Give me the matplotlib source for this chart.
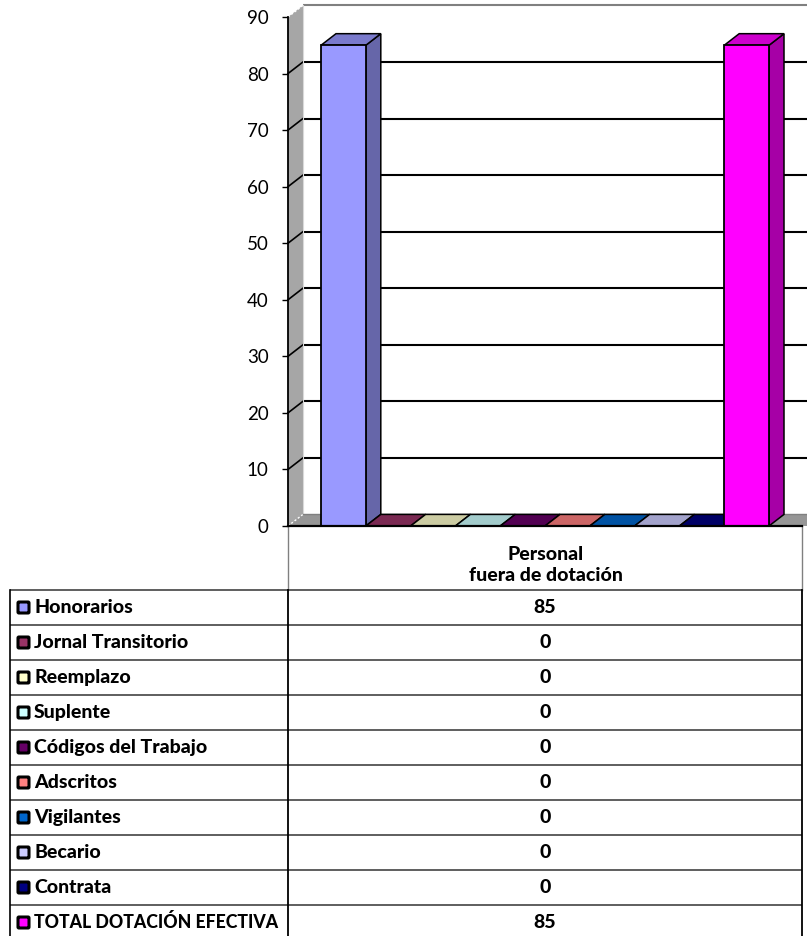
import matplotlib
matplotlib.use("Agg")
import matplotlib.pyplot as plt
from matplotlib.patches import Polygon, Rectangle, FancyBboxPatch

plt.rcParams['font.family'] = ['Lato', 'DejaVu Sans']

names = ["Honorarios", "Jornal Transitorio", "Reemplazo", "Suplente", "Códigos del Trabajo",
         "Adscritos", "Vigilantes", "Becario", "Contrata", "TOTAL DOTACIÓN EFECTIVA"]
values = [85, 0, 0, 0, 0, 0, 0, 0, 0, 85]
front_colors = ["#9999FF", "#993366", "#FFFFCC", "#CCFFFF", "#660066",
                "#FF8080", "#0066CC", "#CCCCFF", "#000080", "#FF00FF"]
top_colors = ["#7A7ACC", "#7A2952", "#CCCCA3", "#A3CCCC", "#520052",
              "#CC6666", "#0052A3", "#A3A3CC", "#000066", "#CC00CC"]
side_colors = ["#6666A9", "#662244", "#A9A988", "#88A9A9", "#440044",
               "#A95555", "#004488", "#8888A9", "#000055", "#A600A6"]
category = "Personal\nfuera de dotación"
yticks = list(range(0, 100, 10))

W, H = 807, 936
fig = plt.figure(figsize=(W / 100, H / 100), dpi=100)

# table and legend layer, in pixels
tb = fig.add_axes([0, 0, 1, 1])
tb.set_xlim(0, W)
tb.set_ylim(H, 0)
tb.axis("off")

# chart layer
ax = fig.add_axes([288 / W, 1 - 526 / H, 514 / W, 509 / H])
ax.set_xlim(0, 514 / 44.8)
ax.set_ylim(0, 90)
ax.patch.set_visible(False)
for s in ["top", "right", "bottom"]:
    ax.spines[s].set_visible(False)
ax.spines["left"].set_linewidth(1.3)
ax.set_xticks([])
ax.set_yticks(yticks)
ax.tick_params(axis="y", length=4.5, width=1, labelsize=13.5, pad=9.5, colors="black")

# depth of the 3d box, in data units
dx = 15 / 44.8
dy = 11.6 / (509 / 90)
x_end = (W - 288) / 44.8
first = 33 / 44.8

# walls and floor
ax.add_patch(Polygon([(dx, dy), (x_end, dy), (x_end, 90 + dy), (dx, 90 + dy)], fc="white", ec="none",
                     clip_on=False, zorder=1))
ax.add_patch(Polygon([(0, 0), (dx, dy), (dx, 90 + dy), (0, 90)], fc="#A6A6A6", ec="none",
                     clip_on=False, zorder=1))
ax.add_patch(Polygon([(0, 0), (x_end, 0), (x_end, dy), (dx, dy)], fc="#969696", ec="none",
                     clip_on=False, zorder=1))

# gridlines, with the slanted bit on the side wall
for t in yticks[1:]:
    col = "#808080" if t == 90 else "black"
    ax.plot([dx, x_end], [t + dy, t + dy], color=col, lw=1.5, clip_on=False, zorder=2, solid_capstyle="butt")
    if t < 90:
        ax.plot([0, dx], [t, t + dy], color="black", lw=1.2, clip_on=False, zorder=2)
ax.plot([0, dx], [90, 90 + dy], color="white", lw=1, ls=(0, (1.5, 1.5)), clip_on=False, zorder=2)
ax.plot([0, dx], [0, dy], color="white", lw=1, ls=(0, (1.5, 1.5)), clip_on=False, zorder=2)
ax.plot([dx, dx], [dy, 90 + dy], color="#D9D9D9", lw=0.8, clip_on=False, zorder=2)
ax.plot([dx, x_end], [dy, dy], color="#808080", lw=1, clip_on=False, zorder=2)

# bars
for i, v in enumerate(values):
    x0 = first + i
    x1 = x0 + 1
    ax.add_patch(Polygon([(x1, 0), (x1 + dx, dy), (x1 + dx, v + dy), (x1, v)], fc=side_colors[i], ec="black",
                         lw=1.1, clip_on=False, zorder=3 + i))
    ax.add_patch(Polygon([(x0, v), (x1, v), (x1 + dx, v + dy), (x0 + dx, v + dy)], fc=top_colors[i], ec="black",
                         lw=1.1, clip_on=False, zorder=3 + i))
    if v > 0:
        ax.add_patch(Rectangle((x0, 0), 1, v, fc=front_colors[i], ec="black", lw=1.3, clip_on=False, zorder=3 + i))

ax.plot([0, 514 / 44.8], [0, 0], color="black", lw=1.6, clip_on=False, zorder=20)

# box under the chart for the category name
tb.plot([288, 288], [526, 590], color="#808080", lw=1)
tb.plot([802, 802], [526, 590], color="#808080", lw=1)
tb.text(546, 565, category, ha="center", va="center", fontsize=14, fontweight=900, linespacing=1.35)

# data table
rows = [590, 625, 660, 695, 730, 765, 800, 835, 870, 905, 940]
for y in rows:
    tb.plot([9.5, 802], [y, y], color="#333333", lw=1.1, solid_capstyle="butt")
tb.plot([9.5, 9.5], [590, 936], color="black", lw=1.2)
tb.plot([288, 288], [590, 936], color="black", lw=1.3)
tb.plot([802, 802], [590, 936], color="black", lw=1.3)

for i, name in enumerate(names):
    mid = (rows[i] + rows[i + 1]) / 2
    if i == 9:
        mid = 922.5
    tb.add_patch(FancyBboxPatch((18, mid - 5.5), 11, 11, boxstyle="round,pad=0,rounding_size=1",
                                fc=front_colors[i], ec="black", lw=2.2))
    fs = 12.7 if i == 9 else 14
    tb.text(34, mid, name, ha="left", va="center", fontsize=fs, fontweight=900)
    tb.text(545, mid, str(values[i]), ha="center", va="center", fontsize=14, fontweight=900)

fig.savefig("out.png", dpi=100)
